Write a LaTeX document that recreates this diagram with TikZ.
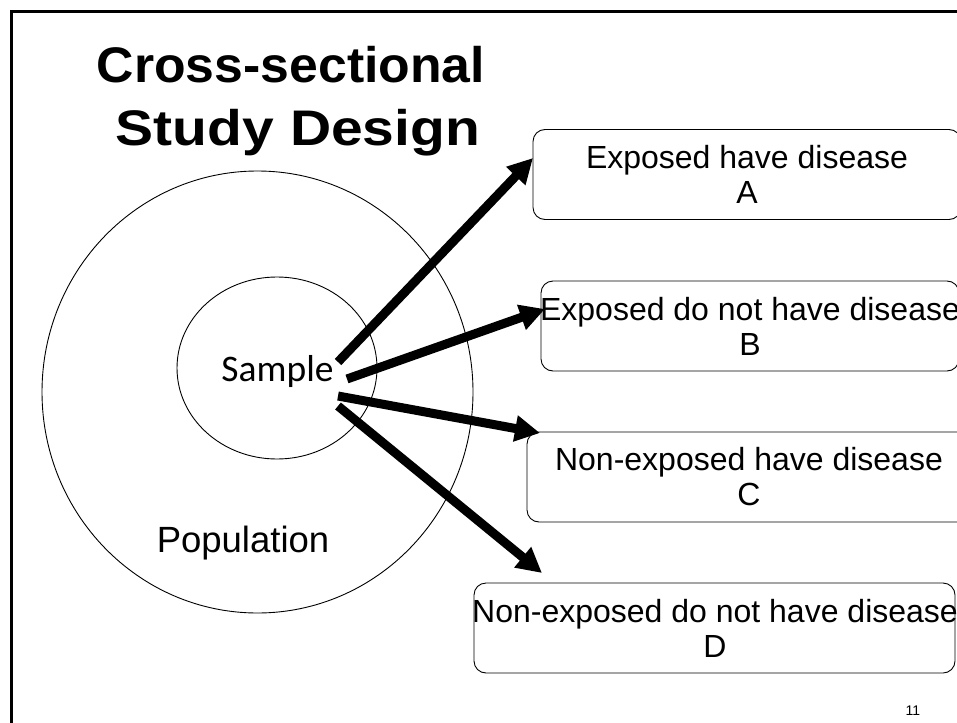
\documentclass[tikz,border=0pt]{standalone}
\usepackage{fontspec}
\usepackage{graphicx}
\setmainfont{Liberation Sans}
\newfontfamily\calib{Carlito}
\usetikzlibrary{arrows.meta}
\begin{document}
\begin{tikzpicture}[x=1pt,y=-1pt,
  frame/.style={line width=3pt,black},
  ring/.style={draw=black,line width=0.9pt},
  box/.style={draw=black,line width=0.9pt,rounded corners=12pt,inner sep=0pt,minimum height=90pt},
  lbl/.style={inner sep=0pt,align=center,font=\fontsize{32}{35}\selectfont},
  ttl/.style={inner sep=0pt,anchor=base,font=\fontsize{50}{63}\bfseries\selectfont},
  arr/.style={line width=9pt,-{Triangle[length=25pt,width=25pt]}}]
\useasboundingbox (0,0) rectangle (957,722);
\clip (0,0) rectangle (957,722);
% page frame
\draw[frame] (11,730) -- (11,12) -- (970,12);
% title
\node[ttl] (t1) at (291,83) {\scalebox{1.035}[1]{Cross-sectional}};
\node[ttl] (t2) at (298,146) {\scalebox{1.14}[1]{Study Design}};
% circles
\draw[ring] (257.5,392) ellipse [x radius=215.5, y radius=221];
\draw[ring] (277,368) ellipse [x radius=100, y radius=91];
\node[inner sep=0pt,anchor=base,font=\calib\fontsize{37.5}{40}\selectfont] (sample) at (277.5,381) {Sample};
\node[inner sep=0pt,anchor=base,font=\fontsize{36.5}{40}\selectfont] (pop) at (243,552) {Population};
% boxes
\node[box,minimum width=428pt] (A) at (747,174.5) {};
\node[lbl] (Atext) at (747,174.5) {Exposed have disease\\A};
\node[box,minimum width=418pt] (B) at (750,326) {};
\node[lbl] (Btext) at (750,326) {Exposed do not have disease\\B};
\node[box,minimum width=444pt] (C) at (749,477) {};
\node[lbl] (Ctext) at (749,477) {Non-exposed have disease\\C};
\node[box,minimum width=481pt] (D) at (714.5,628) {};
\node[lbl] (Dtext) at (715,628) {Non-exposed do not have disease\\D};
% arrows
\coordinate (sA) at (338,362);
\coordinate (sB) at (347,379);
\coordinate (sC) at (338,396);
\coordinate (sD) at (338,406);
\coordinate (tA) at (533,158);
\coordinate (tB) at (545,309);
\coordinate (tC) at (540,433);
\coordinate (tD) at (542,573);
\draw[arr] (sA) -- (tA);
\draw[arr] (sB) -- (tB);
\draw[arr] (sC) -- (tC);
\draw[arr] (sD) -- (tD);
% page number
\node[inner sep=0pt,anchor=base,font=\fontsize{14}{16}\selectfont] (num) at (913,715) {11};
\end{tikzpicture}
\end{document}
